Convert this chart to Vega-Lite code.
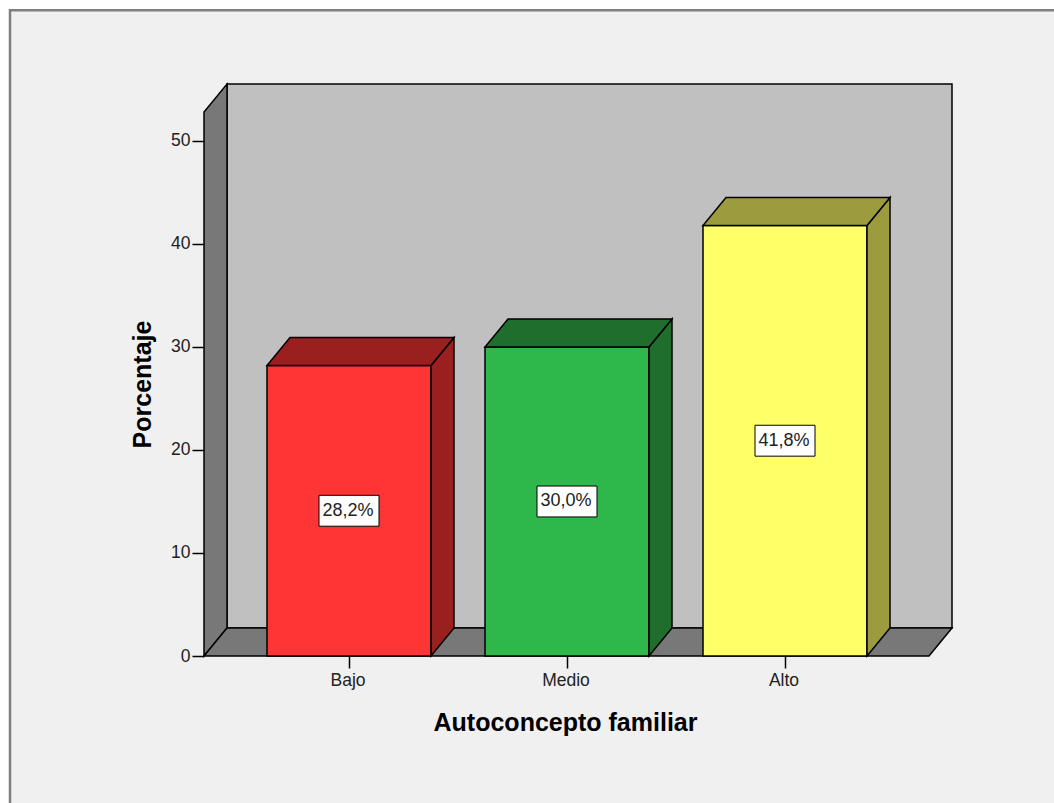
{"$schema":"https://vega.github.io/schema/vega-lite/v6.json","width":748,"height":572,"autosize":"none","padding":{"left":204,"top":84,"right":102,"bottom":147},"background":"#ffffff","view":{"stroke":null},"config":{"font":"Liberation Sans"},"resolve":{"axis":{"x":"independent","y":"independent"}},"datasets":{"rects":[{"part":"marco","x0":-194,"x1":900,"y0":-20,"y1":62.7},{"part":"pared","x0":23,"x1":748,"y0":2.72,"y1":55.53},{"part":"Bajo","x0":63,"x1":227,"y0":0,"y1":28.2},{"part":"Medio","x0":281,"x1":445,"y0":0,"y1":30.0},{"part":"Alto","x0":499,"x1":663,"y0":0,"y1":41.8}],"walls":[{"face":"izq","part":"muro","x":0,"lo":0,"hi":52.81},{"face":"izq","part":"muro","x":23,"lo":2.72,"hi":55.53},{"face":"suelo","part":"muro","x":0,"lo":0,"hi":0},{"face":"suelo","part":"muro","x":23,"lo":0,"hi":2.72},{"face":"suelo","part":"muro","x":725,"lo":0,"hi":2.72},{"face":"suelo","part":"muro","x":748,"lo":2.72,"hi":2.72}],"faces":[{"face":"Bajo lado","part":"Bajo sombra","x":227,"lo":0,"hi":28.2},{"face":"Bajo lado","part":"Bajo sombra","x":250,"lo":2.72,"hi":30.92},{"face":"Bajo tope","part":"Bajo sombra","x":63,"lo":28.2,"hi":28.2},{"face":"Bajo tope","part":"Bajo sombra","x":86,"lo":28.2,"hi":30.92},{"face":"Bajo tope","part":"Bajo sombra","x":227,"lo":28.2,"hi":30.92},{"face":"Bajo tope","part":"Bajo sombra","x":250,"lo":30.92,"hi":30.92},{"face":"Medio lado","part":"Medio sombra","x":445,"lo":0,"hi":30.0},{"face":"Medio lado","part":"Medio sombra","x":468,"lo":2.72,"hi":32.72},{"face":"Medio tope","part":"Medio sombra","x":281,"lo":30.0,"hi":30.0},{"face":"Medio tope","part":"Medio sombra","x":304,"lo":30.0,"hi":32.72},{"face":"Medio tope","part":"Medio sombra","x":445,"lo":30.0,"hi":32.72},{"face":"Medio tope","part":"Medio sombra","x":468,"lo":32.72,"hi":32.72},{"face":"Alto lado","part":"Alto sombra","x":663,"lo":0,"hi":41.8},{"face":"Alto lado","part":"Alto sombra","x":686,"lo":2.72,"hi":44.52},{"face":"Alto tope","part":"Alto sombra","x":499,"lo":41.8,"hi":41.8},{"face":"Alto tope","part":"Alto sombra","x":522,"lo":41.8,"hi":44.52},{"face":"Alto tope","part":"Alto sombra","x":663,"lo":41.8,"hi":44.52},{"face":"Alto tope","part":"Alto sombra","x":686,"lo":44.52,"hi":44.52}],"labels":[{"label":"28,2%","xc":145,"yc":14.1,"x0":115,"x1":175,"y0":12.6,"y1":15.6},{"label":"30,0%","xc":363,"yc":15.0,"x0":333,"x1":393,"y0":13.5,"y1":16.5},{"label":"41,8%","xc":581,"yc":20.9,"x0":551,"x1":611,"y0":19.4,"y1":22.4}]},"layer":[{"data":{"name":"rects"},"transform":[{"filter":"datum.part=='marco'"}],"mark":{"type":"rect","fill":"#f0f0f0","stroke":"#7f7f7f","strokeWidth":2.5},"encoding":{"x":{"field":"x0","type":"quantitative","scale":{"domain":[0,748],"nice":false,"zero":false},"axis":{"values":[145,363,581],"labelExpr":"datum.value==145?'Bajo':datum.value==363?'Medio':'Alto'","grid":false,"domain":false,"tickColor":"#000000","tickSize":12,"tickWidth":1.5,"labelFont":"Liberation Sans","labelFontSize":17.5,"labelColor":"#222222","labelPadding":3,"labelOffset":-1.5,"labelAngle":0,"zindex":1,"title":"Autoconcepto familiar","titleFont":"Liberation Sans","titleFontSize":25,"titleFontWeight":"bold","titleColor":"#000000","titleX":361,"titleY":66,"titleBaseline":"middle","titleAnchor":"middle","titleAlign":"center"}},"x2":{"field":"x1"},"y":{"field":"y0","type":"quantitative","scale":{"domain":[0,55.53],"nice":false,"zero":false},"axis":{"values":[0,10,20,30,40,50],"grid":false,"domain":false,"tickColor":"#000000","tickSize":12,"tickWidth":1.5,"labelFont":"Liberation Sans","labelFontSize":17.5,"labelColor":"#222222","labelPadding":2,"zindex":1,"title":"Porcentaje","titleFont":"Liberation Sans","titleFontSize":25,"titleFontWeight":"bold","titleColor":"#000000","titleX":-62,"titleY":300,"titleBaseline":"middle","titleAnchor":"middle","titleAlign":"center"}},"y2":{"field":"y1"}}},{"data":{"name":"rects"},"transform":[{"filter":"datum.part=='pared'"}],"mark":{"type":"rect","stroke":"#000000","strokeWidth":1.5},"encoding":{"x":{"field":"x0","type":"quantitative","axis":null},"x2":{"field":"x1"},"y":{"field":"y0","type":"quantitative","axis":null},"y2":{"field":"y1"},"color":{"field":"part","type":"nominal","legend":null,"scale":{"domain":["pared","muro","Bajo","Bajo sombra","Medio","Medio sombra","Alto","Alto sombra"],"range":["#c0c0c0","#787878","#ff3434","#9a2020","#2eb84c","#1f6e2e","#ffff66","#9c9c3e"]}}}},{"data":{"name":"walls"},"mark":{"type":"area","stroke":"#000000","strokeWidth":1.5,"opacity":1},"encoding":{"x":{"field":"x","type":"quantitative","axis":null},"y":{"field":"lo","type":"quantitative","axis":null},"y2":{"field":"hi"},"detail":{"field":"face"},"color":{"field":"part","type":"nominal","legend":null}}},{"data":{"name":"rects"},"transform":[{"filter":"datum.part!='marco' && datum.part!='pared'"}],"mark":{"type":"rect","stroke":"#000000","strokeWidth":1.5},"encoding":{"x":{"field":"x0","type":"quantitative","axis":null},"x2":{"field":"x1"},"y":{"field":"y0","type":"quantitative","axis":null},"y2":{"field":"y1"},"color":{"field":"part","type":"nominal","legend":null}}},{"data":{"name":"faces"},"mark":{"type":"area","stroke":"#000000","strokeWidth":1.5,"opacity":1},"encoding":{"x":{"field":"x","type":"quantitative","axis":null},"y":{"field":"lo","type":"quantitative","axis":null},"y2":{"field":"hi"},"detail":{"field":"face"},"color":{"field":"part","type":"nominal","legend":null}}},{"data":{"name":"labels"},"mark":{"type":"rect","fill":"#ffffff","stroke":"#000000","strokeWidth":1},"encoding":{"x":{"field":"x0","type":"quantitative","axis":null},"x2":{"field":"x1"},"y":{"field":"y0","type":"quantitative","axis":null},"y2":{"field":"y1"}}},{"data":{"name":"labels"},"mark":{"type":"text","font":"Liberation Sans","fontSize":18,"color":"#222222","baseline":"middle","align":"center","dx":-1},"encoding":{"x":{"field":"xc","type":"quantitative","axis":null},"y":{"field":"yc","type":"quantitative","axis":null},"text":{"field":"label"}}}]}
